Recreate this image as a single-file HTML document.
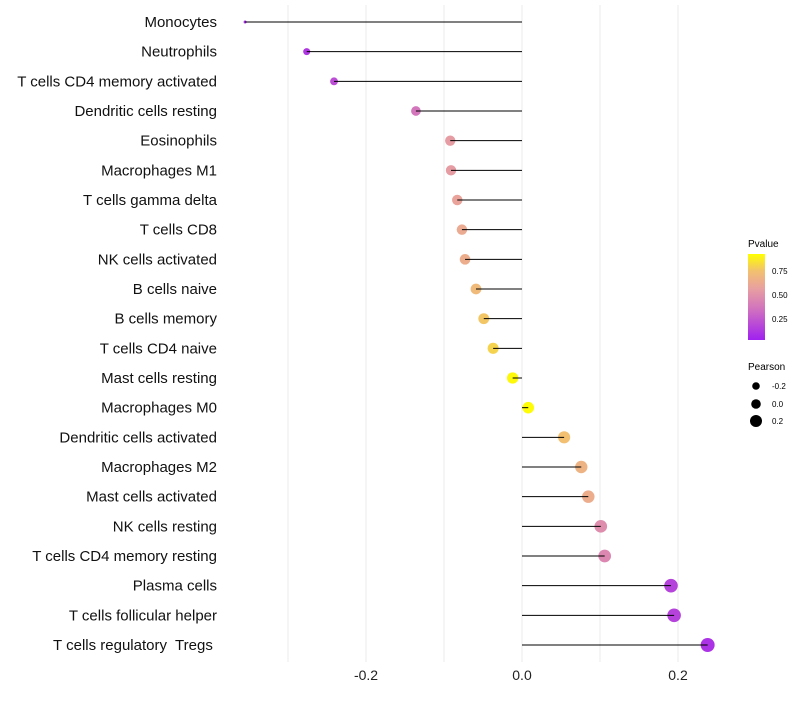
<!DOCTYPE html>
<html><head><meta charset="utf-8"><style>
body{margin:0;background:#fff;font-family:"Liberation Sans",sans-serif}
</style></head><body>
<svg id="c" width="800" height="700" xmlns="http://www.w3.org/2000/svg">
<defs><linearGradient id="pg" x1="0" y1="1" x2="0" y2="0">
<stop offset="0" stop-color="#a020f0"/><stop offset="0.35" stop-color="#d070c0"/><stop offset="0.6" stop-color="#e8a0a0"/><stop offset="0.8" stop-color="#f2c070"/><stop offset="1" stop-color="#ffff00"/>
</linearGradient></defs>
<g id="grid"></g><g id="marks"></g><g id="labels"></g>
<g>
<text x="748" y="247" font-size="10">Pvalue</text>
<rect x="748" y="254" width="17" height="86" fill="url(#pg)"/>
<text x="772" y="274" font-size="8">0.75</text>
<text x="772" y="298" font-size="8">0.50</text>
<text x="772" y="322" font-size="8">0.25</text>
</g>
<g>
<text x="748" y="370" font-size="10">Pearson</text>
<circle cx="756" cy="386" r="3.8"/><text x="772" y="389" font-size="8">-0.2</text>
<circle cx="756" cy="404" r="4.8"/><text x="772" y="407" font-size="8">0.0</text>
<circle cx="756" cy="421" r="6"/><text x="772" y="424" font-size="8">0.2</text>
</g>
</svg>
<script>
const cells=["Monocytes","Neutrophils","T cells CD4 memory activated","Dendritic cells resting","Eosinophils","Macrophages M1","T cells gamma delta","T cells CD8","NK cells activated","B cells naive","B cells memory","T cells CD4 naive","Mast cells resting","Macrophages M0","Dendritic cells activated","Macrophages M2","Mast cells activated","NK cells resting","T cells CD4 memory resting","Plasma cells","T cells follicular helper","T cells regulatory  Tregs "];
const pearson=[-0.355,-0.276,-0.241,-0.136,-0.092,-0.091,-0.083,-0.077,-0.073,-0.059,-0.049,-0.037,-0.012,0.008,0.054,0.076,0.085,0.101,0.106,0.191,0.195,0.238];
const pvalue=[0.05,0.1,0.2,0.38,0.58,0.58,0.62,0.66,0.68,0.76,0.82,0.86,0.98,0.99,0.8,0.72,0.68,0.5,0.47,0.15,0.15,0.08];
const ticks=[-0.2,0.0,0.2];
const tickLabels=["-0.2","0.0","0.2"];
const NS="http://www.w3.org/2000/svg";
const xs=v=>522+v*780;
const ys=i=>22+i*(645-22)/(cells.length-1);
function mk(t,a,p){const e=document.createElementNS(NS,t);for(const k in a)e.setAttribute(k,a[k]);p.appendChild(e);return e;}
const stops=[[0,[160,32,240]],[0.35,[208,112,192]],[0.6,[232,160,160]],[0.8,[242,192,112]],[1,[255,255,0]]];
function col(p){const t=Math.max(0,Math.min(1,p));for(let k=1;k<stops.length;k++){if(t<=stops[k][0]){const a=stops[k-1],b=stops[k];const f=(t-a[0])/(b[0]-a[0]);return `rgb(${a[1].map((x,i)=>Math.round(x+(b[1][i]-x)*f))})`;}}return 'rgb(255,255,0)';}
const grid=document.getElementById('grid'),marks=document.getElementById('marks'),labels=document.getElementById('labels');
[-0.3,-0.2,-0.1,0,0.1,0.2].forEach(v=>{const l=mk('line',{x1:xs(v),x2:xs(v),y1:5,y2:662,stroke:'#ebebeb','stroke-width':1},grid);

});
ticks.forEach((v,i)=>{const t=mk('text',{x:xs(v),y:680,'font-size':14,'text-anchor':'middle',fill:'#222'},labels);t.textContent=tickLabels[i];

});
cells.forEach((c,i)=>{const y=ys(i);
const t=mk('text',{x:217,y:y+5,'font-size':15,'text-anchor':'end',fill:'#111'},labels);t.style.whiteSpace='pre';t.textContent=c;


const r=1.5+5.5*Math.sqrt(Math.max(0,(pearson[i]+0.355)/0.593));
const d=mk('circle',{cx:xs(pearson[i]),cy:y,r:r,fill:col(pvalue[i])},marks);


const l=mk('line',{x1:xs(0),x2:xs(pearson[i]),y1:y,y2:y,stroke:'#000','stroke-width':1},marks);

});
</script>
</body></html>
